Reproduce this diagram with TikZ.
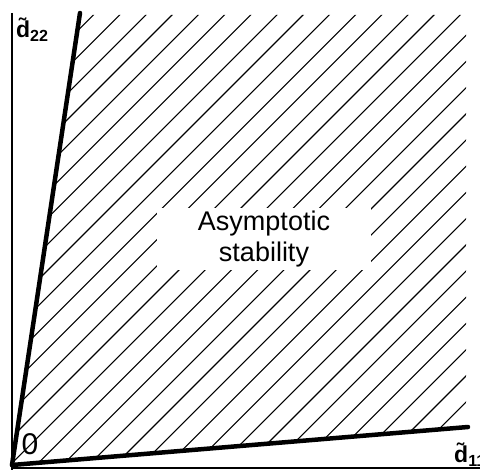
\documentclass[tikz,border=0pt]{standalone}
\usepackage{fontspec}
\setmainfont{Liberation Sans}
\usetikzlibrary{positioning}

\tikzset{
    axis/.style={line width=1.6pt},
    bound/.style={line width=4.5pt, line cap=round},
    hatch/.style={line width=1.1pt},
    lbl/.style={inner sep=0pt, font=\fontsize{23}{25}\selectfont\bfseries}
}

\begin{document}
\begin{tikzpicture}[x=1pt, y=1pt]
            \useasboundingbox (0,0) rectangle (480,470);

            % Define points
            \coordinate (O) at (12,5);
            \coordinate (A) at (80,457);
            \coordinate (B) at (468,43);
            \coordinate (ytop) at (12,457);
            \coordinate (ybot) at (12,0);
            \coordinate (xleft) at (12,2);
            \coordinate (xright) at (480,2);

            % Hatching
            \begin{scope}
                \clip (O) -- (79.7,455) -- (466,455) -- (466,42.8) -- cycle;
                \foreach \k in {-7,...,28}
                    \draw[hatch] (0,283-26.2*\k) -- ++(480,480);
            \end{scope}

            % Axes
            \draw[axis] (ytop) -- (ybot);
            \draw[axis] (xleft) -- (xright);

            % Boundaries
            \draw[bound] (O) -- (A);
            \draw[bound] (O) -- (B);

            % Labels
            \node[fill=white, minimum width=214pt, minimum height=62pt, align=center,
                  font=\fontsize{27}{31}\selectfont] (region) at (264,231) {Asymptotic\\stability};
            \node[lbl, anchor=base west] (d22) at (16,432) {\~{d}\textsubscript{22}};
            \node[lbl, font=\fontsize{30}{32}\selectfont] (zero) at (30,26) {0};
            \node[lbl, anchor=base west] (d11) at (454,7) {\~{d}\textsubscript{11}};
\end{tikzpicture}
\end{document}
